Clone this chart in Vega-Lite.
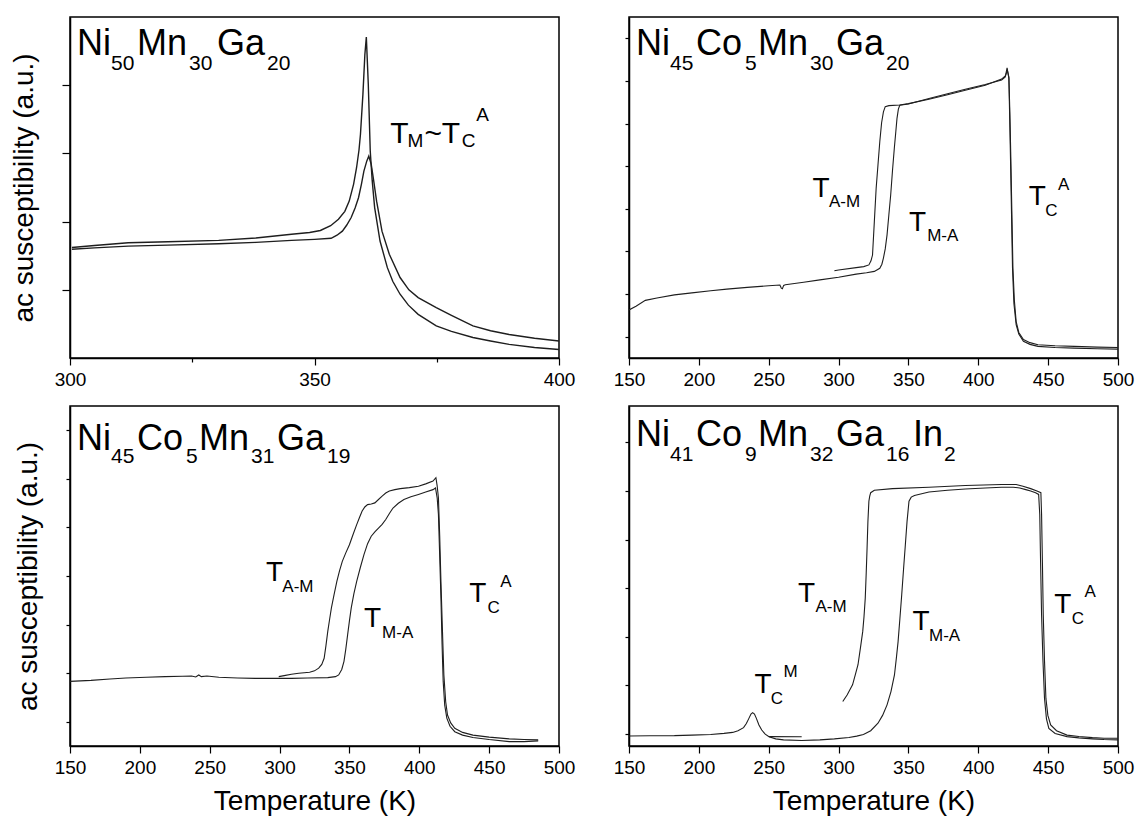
{
"$schema": "https://vega.github.io/schema/vega-lite/v6.json",
"padding": {"left": 9, "top": 16, "right": 5, "bottom": 0},
"autosize": {"type": "pad"},
"background": "white",
"config": {
  "font": "Liberation Sans",
  "view": {"stroke": "black", "strokeWidth": 1.5},
  "axis": {"grid": false, "domainColor": "black", "domainWidth": 1.5, "tickColor": "black", "tickWidth": 1.2, "labelColor": "black", "labelFontSize": 19, "labelFont": "Liberation Sans", "titleFont": "Liberation Sans", "titleFontSize": 28, "titleFontWeight": "normal", "titleColor": "black", "labelFlush": false, "labelOverlap": false}
},
"datasets": {
  "tl": [
    {"r":"a","T":300.4,"v":0.324},{"r":"a","T":305,"v":0.330},{"r":"a","T":311.9,"v":0.338},{"r":"a","T":320,"v":0.341},{"r":"a","T":330.4,"v":0.345},{"r":"a","T":338,"v":0.352},{"r":"a","T":345.3,"v":0.363},{"r":"a","T":349,"v":0.368},{"r":"a","T":351.2,"v":0.374},{"r":"a","T":353.3,"v":0.388},{"r":"a","T":354.9,"v":0.407},{"r":"a","T":356.2,"v":0.43},{"r":"a","T":357.1,"v":0.46},{"r":"a","T":358,"v":0.51},{"r":"a","T":358.6,"v":0.558},{"r":"a","T":359.1,"v":0.61},{"r":"a","T":359.4,"v":0.656},{"r":"a","T":359.9,"v":0.773},{"r":"a","T":360.3,"v":0.89},{"r":"a","T":360.6,"v":0.941},{"r":"a","T":361.0,"v":0.803},{"r":"a","T":361.4,"v":0.607},{"r":"a","T":361.8,"v":0.52},{"r":"a","T":362.3,"v":0.441},{"r":"a","T":363.4,"v":0.343},{"r":"a","T":364.9,"v":0.265},{"r":"a","T":366,"v":0.225},{"r":"a","T":367.5,"v":0.187},{"r":"a","T":369.2,"v":0.155},{"r":"a","T":371.2,"v":0.128},{"r":"a","T":374.9,"v":0.094},{"r":"a","T":378,"v":0.078},{"r":"a","T":382.4,"v":0.06},{"r":"a","T":386,"v":0.05},{"r":"a","T":389.8,"v":0.04},{"r":"a","T":395,"v":0.031},{"r":"a","T":400,"v":0.025},
    {"r":"b","T":300.4,"v":0.319},{"r":"b","T":305,"v":0.323},{"r":"b","T":311.9,"v":0.328},{"r":"b","T":320,"v":0.331},{"r":"b","T":330.4,"v":0.335},{"r":"b","T":338,"v":0.339},{"r":"b","T":345.3,"v":0.345},{"r":"b","T":350,"v":0.348},{"r":"b","T":353.4,"v":0.351},{"r":"b","T":354.6,"v":0.36},{"r":"b","T":355.7,"v":0.372},{"r":"b","T":356.6,"v":0.39},{"r":"b","T":357.5,"v":0.412},{"r":"b","T":358.3,"v":0.44},{"r":"b","T":359.0,"v":0.47},{"r":"b","T":359.6,"v":0.51},{"r":"b","T":360.1,"v":0.548},{"r":"b","T":360.7,"v":0.578},{"r":"b","T":361.1,"v":0.592},{"r":"b","T":361.6,"v":0.568},{"r":"b","T":362.1,"v":0.52},{"r":"b","T":362.7,"v":0.46},{"r":"b","T":363.8,"v":0.372},{"r":"b","T":365.3,"v":0.304},{"r":"b","T":367.5,"v":0.236},{"r":"b","T":369.3,"v":0.2},{"r":"b","T":371.2,"v":0.177},{"r":"b","T":374.9,"v":0.148},{"r":"b","T":378,"v":0.125},{"r":"b","T":382.4,"v":0.094},{"r":"b","T":386,"v":0.08},{"r":"b","T":389.8,"v":0.069},{"r":"b","T":395,"v":0.058},{"r":"b","T":400,"v":0.05}
  ],
  "tr": [
    {"r":"h","T":150,"v":0.141},{"r":"h","T":155,"v":0.152},{"r":"h","T":161.7,"v":0.169},{"r":"h","T":170,"v":0.176},{"r":"h","T":182.5,"v":0.185},{"r":"h","T":195,"v":0.191},{"r":"h","T":208.5,"v":0.197},{"r":"h","T":220,"v":0.202},{"r":"h","T":234.6,"v":0.207},{"r":"h","T":250,"v":0.212},{"r":"h","T":258,"v":0.214},{"r":"h","T":259,"v":0.205},{"r":"h","T":259.8,"v":0.203},{"r":"h","T":260.7,"v":0.213},{"r":"h","T":261.9,"v":0.215},{"r":"h","T":275,"v":0.222},{"r":"h","T":286.6,"v":0.229},{"r":"h","T":300,"v":0.237},{"r":"h","T":312.6,"v":0.246},{"r":"h","T":320,"v":0.25},{"r":"h","T":325.6,"v":0.254},{"r":"h","T":329.5,"v":0.263},{"r":"h","T":331,"v":0.275},{"r":"h","T":332.1,"v":0.293},{"r":"h","T":333.4,"v":0.32},{"r":"h","T":334.7,"v":0.361},{"r":"h","T":336,"v":0.42},{"r":"h","T":337.3,"v":0.478},{"r":"h","T":338.6,"v":0.55},{"r":"h","T":339.9,"v":0.615},{"r":"h","T":341,"v":0.665},{"r":"h","T":341.8,"v":0.702},{"r":"h","T":342.8,"v":0.73},{"r":"h","T":343.8,"v":0.741},{"r":"h","T":350,"v":0.745},{"r":"h","T":364.7,"v":0.761},{"r":"h","T":378,"v":0.775},{"r":"h","T":390.7,"v":0.788},{"r":"h","T":405,"v":0.802},{"r":"h","T":416.7,"v":0.815},{"r":"h","T":419.3,"v":0.824},{"r":"h","T":420.6,"v":0.851},{"r":"h","T":421.9,"v":0.82},{"r":"h","T":422.5,"v":0.7},{"r":"h","T":423.2,"v":0.556},{"r":"h","T":424.5,"v":0.263},{"r":"h","T":425.5,"v":0.16},{"r":"h","T":427.1,"v":0.098},{"r":"h","T":429,"v":0.07},{"r":"h","T":432.3,"v":0.049},{"r":"h","T":437,"v":0.04},{"r":"h","T":442.7,"v":0.034},{"r":"h","T":455,"v":0.031},{"r":"h","T":468.7,"v":0.029},{"r":"h","T":485,"v":0.027},{"r":"h","T":500,"v":0.026},
    {"r":"c","T":297,"v":0.256},{"r":"c","T":300,"v":0.258},{"r":"c","T":312.6,"v":0.265},{"r":"c","T":318,"v":0.268},{"r":"c","T":321.7,"v":0.273},{"r":"c","T":323.2,"v":0.285},{"r":"c","T":324.3,"v":0.302},{"r":"c","T":325.6,"v":0.4},{"r":"c","T":326.9,"v":0.498},{"r":"c","T":328.2,"v":0.566},{"r":"c","T":329.5,"v":0.634},{"r":"c","T":330.8,"v":0.69},{"r":"c","T":332.1,"v":0.722},{"r":"c","T":333.4,"v":0.737},{"r":"c","T":336,"v":0.74},{"r":"c","T":343.8,"v":0.742},{"r":"c","T":350,"v":0.746},{"r":"c","T":364.7,"v":0.759},{"r":"c","T":378,"v":0.772},{"r":"c","T":390.7,"v":0.785},{"r":"c","T":405,"v":0.8},{"r":"c","T":416.7,"v":0.818},{"r":"c","T":419.5,"v":0.828},{"r":"c","T":420.8,"v":0.844},{"r":"c","T":421.9,"v":0.824},{"r":"c","T":422.6,"v":0.72},{"r":"c","T":423.2,"v":0.605},{"r":"c","T":424.8,"v":0.263},{"r":"c","T":425.8,"v":0.17},{"r":"c","T":427.1,"v":0.107},{"r":"c","T":429,"v":0.075},{"r":"c","T":432.3,"v":0.054},{"r":"c","T":437,"v":0.045},{"r":"c","T":442.7,"v":0.039},{"r":"c","T":455,"v":0.036},{"r":"c","T":468.7,"v":0.034},{"r":"c","T":485,"v":0.032},{"r":"c","T":500,"v":0.031}
  ],
  "bl": [
    {"r":"h","T":150,"v":0.19},{"r":"h","T":165,"v":0.193},{"r":"h","T":178.6,"v":0.197},{"r":"h","T":190,"v":0.2},{"r":"h","T":204.6,"v":0.202},{"r":"h","T":218,"v":0.204},{"r":"h","T":230.5,"v":0.205},{"r":"h","T":237,"v":0.206},{"r":"h","T":240,"v":0.203},{"r":"h","T":242.2,"v":0.209},{"r":"h","T":244,"v":0.204},{"r":"h","T":248,"v":0.206},{"r":"h","T":256.5,"v":0.202},{"r":"h","T":270,"v":0.2},{"r":"h","T":282.5,"v":0.199},{"r":"h","T":295,"v":0.199},{"r":"h","T":308.5,"v":0.199},{"r":"h","T":320,"v":0.2},{"r":"h","T":334.5,"v":0.201},{"r":"h","T":340,"v":0.204},{"r":"h","T":342.3,"v":0.209},{"r":"h","T":344.5,"v":0.225},{"r":"h","T":346.1,"v":0.249},{"r":"h","T":347.4,"v":0.285},{"r":"h","T":348.7,"v":0.327},{"r":"h","T":350,"v":0.368},{"r":"h","T":351.3,"v":0.406},{"r":"h","T":353.2,"v":0.448},{"r":"h","T":355.2,"v":0.484},{"r":"h","T":357.8,"v":0.525},{"r":"h","T":360.4,"v":0.563},{"r":"h","T":363,"v":0.595},{"r":"h","T":365.6,"v":0.617},{"r":"h","T":368.2,"v":0.63},{"r":"h","T":370.8,"v":0.641},{"r":"h","T":373.4,"v":0.652},{"r":"h","T":376,"v":0.666},{"r":"h","T":378.6,"v":0.684},{"r":"h","T":381.2,"v":0.7},{"r":"h","T":385,"v":0.714},{"r":"h","T":389,"v":0.725},{"r":"h","T":394,"v":0.733},{"r":"h","T":399.4,"v":0.74},{"r":"h","T":404.6,"v":0.747},{"r":"h","T":409.8,"v":0.754},{"r":"h","T":411.6,"v":0.759},{"r":"h","T":412.8,"v":0.73},{"r":"h","T":413.7,"v":0.681},{"r":"h","T":414.6,"v":0.56},{"r":"h","T":415.5,"v":0.435},{"r":"h","T":416.3,"v":0.3},{"r":"h","T":417.1,"v":0.19},{"r":"h","T":418.2,"v":0.12},{"r":"h","T":419.7,"v":0.082},{"r":"h","T":422,"v":0.058},{"r":"h","T":425.4,"v":0.042},{"r":"h","T":431,"v":0.032},{"r":"h","T":438.4,"v":0.025},{"r":"h","T":450,"v":0.019},{"r":"h","T":464.4,"v":0.013},{"r":"h","T":475,"v":0.013},{"r":"h","T":485.1,"v":0.015},
    {"r":"c","T":299.4,"v":0.204},{"r":"c","T":303.3,"v":0.207},{"r":"c","T":308.5,"v":0.211},{"r":"c","T":313.7,"v":0.214},{"r":"c","T":321.5,"v":0.217},{"r":"c","T":325,"v":0.221},{"r":"c","T":328,"v":0.229},{"r":"c","T":330.2,"v":0.24},{"r":"c","T":331.9,"v":0.258},{"r":"c","T":333.2,"v":0.295},{"r":"c","T":334.5,"v":0.337},{"r":"c","T":335.8,"v":0.372},{"r":"c","T":337.1,"v":0.406},{"r":"c","T":339,"v":0.445},{"r":"c","T":341,"v":0.484},{"r":"c","T":342.9,"v":0.515},{"r":"c","T":344.9,"v":0.543},{"r":"c","T":347.4,"v":0.568},{"r":"c","T":350,"v":0.592},{"r":"c","T":352.6,"v":0.622},{"r":"c","T":355.2,"v":0.651},{"r":"c","T":357.2,"v":0.672},{"r":"c","T":359.1,"v":0.691},{"r":"c","T":361,"v":0.703},{"r":"c","T":363,"v":0.71},{"r":"c","T":365.6,"v":0.712},{"r":"c","T":368.2,"v":0.715},{"r":"c","T":370.8,"v":0.725},{"r":"c","T":373.4,"v":0.735},{"r":"c","T":376,"v":0.744},{"r":"c","T":378.6,"v":0.75},{"r":"c","T":382.5,"v":0.754},{"r":"c","T":386.4,"v":0.757},{"r":"c","T":392.9,"v":0.76},{"r":"c","T":399.4,"v":0.764},{"r":"c","T":404.6,"v":0.771},{"r":"c","T":409.8,"v":0.779},{"r":"c","T":411.9,"v":0.789},{"r":"c","T":412.8,"v":0.765},{"r":"c","T":413.7,"v":0.73},{"r":"c","T":414.6,"v":0.62},{"r":"c","T":415.5,"v":0.484},{"r":"c","T":416.5,"v":0.35},{"r":"c","T":417.6,"v":0.209},{"r":"c","T":418.9,"v":0.13},{"r":"c","T":420.2,"v":0.091},{"r":"c","T":422.5,"v":0.068},{"r":"c","T":425.4,"v":0.052},{"r":"c","T":431,"v":0.04},{"r":"c","T":438.4,"v":0.032},{"r":"c","T":450,"v":0.026},{"r":"c","T":464.4,"v":0.021},{"r":"c","T":475,"v":0.019},{"r":"c","T":485.1,"v":0.018}
  ],
  "br": [
    {"r":"h","T":150,"v":0.0295},{"r":"h","T":165,"v":0.03},{"r":"h","T":182.5,"v":0.0305},{"r":"h","T":195,"v":0.032},{"r":"h","T":208.5,"v":0.034},{"r":"h","T":218,"v":0.037},{"r":"h","T":224.2,"v":0.04},{"r":"h","T":228,"v":0.045},{"r":"h","T":232,"v":0.054},{"r":"h","T":234,"v":0.066},{"r":"h","T":235.9,"v":0.082},{"r":"h","T":237.3,"v":0.094},{"r":"h","T":238.5,"v":0.098},{"r":"h","T":239.8,"v":0.094},{"r":"h","T":241.1,"v":0.082},{"r":"h","T":243,"v":0.062},{"r":"h","T":245,"v":0.047},{"r":"h","T":247.5,"v":0.035},{"r":"h","T":250.2,"v":0.0275},{"r":"h","T":255,"v":0.021},{"r":"h","T":260.6,"v":0.018},{"r":"h","T":273.6,"v":0.016},{"r":"h","T":286.6,"v":0.018},{"r":"h","T":297,"v":0.021},{"r":"h","T":307.4,"v":0.025},{"r":"h","T":313,"v":0.029},{"r":"h","T":317.8,"v":0.034},{"r":"h","T":323,"v":0.045},{"r":"h","T":328.2,"v":0.067},{"r":"h","T":331.5,"v":0.09},{"r":"h","T":334.7,"v":0.121},{"r":"h","T":337.5,"v":0.16},{"r":"h","T":340,"v":0.209},{"r":"h","T":341.4,"v":0.26},{"r":"h","T":342.6,"v":0.307},{"r":"h","T":343.9,"v":0.375},{"r":"h","T":345.2,"v":0.445},{"r":"h","T":346.5,"v":0.52},{"r":"h","T":347.8,"v":0.592},{"r":"h","T":349,"v":0.66},{"r":"h","T":350.4,"v":0.72},{"r":"h","T":352,"v":0.732},{"r":"h","T":354.3,"v":0.737},{"r":"h","T":364.7,"v":0.747},{"r":"h","T":378,"v":0.752},{"r":"h","T":390.7,"v":0.756},{"r":"h","T":405,"v":0.759},{"r":"h","T":416.7,"v":0.761},{"r":"h","T":425,"v":0.761},{"r":"h","T":429.7,"v":0.759},{"r":"h","T":434,"v":0.754},{"r":"h","T":437.5,"v":0.75},{"r":"h","T":441,"v":0.745},{"r":"h","T":443.2,"v":0.74},{"r":"h","T":444,"v":0.681},{"r":"h","T":444.6,"v":0.54},{"r":"h","T":445.3,"v":0.386},{"r":"h","T":446.3,"v":0.25},{"r":"h","T":447.4,"v":0.14},{"r":"h","T":448.8,"v":0.08},{"r":"h","T":450.5,"v":0.052},{"r":"h","T":455,"v":0.037},{"r":"h","T":463.5,"v":0.0275},{"r":"h","T":472,"v":0.024},{"r":"h","T":481.7,"v":0.021},{"r":"h","T":490,"v":0.019},{"r":"h","T":500,"v":0.018},
    {"r":"c","T":303,"v":0.131},{"r":"c","T":306.1,"v":0.15},{"r":"c","T":310,"v":0.18},{"r":"c","T":312,"v":0.21},{"r":"c","T":313.9,"v":0.239},{"r":"c","T":315.7,"v":0.29},{"r":"c","T":317.3,"v":0.337},{"r":"c","T":318.2,"v":0.38},{"r":"c","T":319.1,"v":0.435},{"r":"c","T":319.8,"v":0.51},{"r":"c","T":320.4,"v":0.582},{"r":"c","T":321,"v":0.66},{"r":"c","T":321.7,"v":0.72},{"r":"c","T":322.3,"v":0.735},{"r":"c","T":323,"v":0.745},{"r":"c","T":325.6,"v":0.752},{"r":"c","T":338.6,"v":0.757},{"r":"c","T":364.7,"v":0.761},{"r":"c","T":390.7,"v":0.766},{"r":"c","T":416.7,"v":0.769},{"r":"c","T":427.1,"v":0.769},{"r":"c","T":432,"v":0.764},{"r":"c","T":437.5,"v":0.757},{"r":"c","T":442,"v":0.75},{"r":"c","T":444.8,"v":0.745},{"r":"c","T":445.3,"v":0.681},{"r":"c","T":445.9,"v":0.54},{"r":"c","T":446.5,"v":0.386},{"r":"c","T":447.4,"v":0.25},{"r":"c","T":448.4,"v":0.14},{"r":"c","T":449.8,"v":0.09},{"r":"c","T":451.8,"v":0.062},{"r":"c","T":456,"v":0.045},{"r":"c","T":463.5,"v":0.032},{"r":"c","T":472,"v":0.028},{"r":"c","T":481.7,"v":0.0246},{"r":"c","T":490,"v":0.023},{"r":"c","T":500,"v":0.0226},
    {"r":"s","T":250.2,"v":0.0275},{"r":"s","T":273.6,"v":0.027}
  ],
  "tl_t": [
    {"T":301.43,"v":0.8886,"s":"Ni","k":"m"},{"T":308.38,"v":0.8446,"s":"50","k":"s"},{"T":313.7,"v":0.8886,"s":"Mn","k":"m"},{"T":324.34,"v":0.8446,"s":"30","k":"s"},{"T":330.06,"v":0.8886,"s":"Ga","k":"m"},{"T":340.29,"v":0.8446,"s":"20","k":"s"},
    {"T":365.5,"v":0.631,"s":"T","k":"A"},{"T":369.0,"v":0.619,"s":"M","k":"B"},{"T":372.5,"v":0.631,"s":"~","k":"A"},{"T":376.0,"v":0.631,"s":"T","k":"A"},{"T":380.1,"v":0.619,"s":"C","k":"B"},{"T":383.1,"v":0.695,"s":"A","k":"B"}
  ],
  "tr_t": [
    {"T":155.0,"v":0.8886,"s":"Ni","k":"m"},{"T":179.35,"v":0.8446,"s":"45","k":"s"},{"T":197.96,"v":0.8886,"s":"Co","k":"m"},{"T":233.04,"v":0.8446,"s":"5","k":"s"},{"T":242.34,"v":0.8886,"s":"Mn","k":"m"},{"T":279.56,"v":0.8446,"s":"30","k":"s"},{"T":298.18,"v":0.8886,"s":"Ga","k":"m"},{"T":333.97,"v":0.8446,"s":"20","k":"s"},
    {"T":281.4,"v":0.473,"s":"T","k":"a"},{"T":293.1,"v":0.444,"s":"A-M","k":"b"},
    {"T":350.4,"v":0.373,"s":"T","k":"a"},{"T":363.4,"v":0.343,"s":"M-A","k":"b"},
    {"T":436.2,"v":0.449,"s":"T","k":"a"},{"T":447.9,"v":0.415,"s":"C","k":"b"},{"T":457.0,"v":0.493,"s":"A","k":"b"}
  ],
  "bl_t": [
    {"T":155.0,"v":0.872,"s":"Ni","k":"m"},{"T":179.35,"v":0.833,"s":"45","k":"s"},{"T":197.96,"v":0.872,"s":"Co","k":"m"},{"T":233.04,"v":0.833,"s":"5","k":"s"},{"T":242.34,"v":0.872,"s":"Mn","k":"m"},{"T":279.56,"v":0.833,"s":"31","k":"s"},{"T":298.18,"v":0.872,"s":"Ga","k":"m"},{"T":333.97,"v":0.833,"s":"19","k":"s"},
    {"T":290.3,"v":0.484,"s":"T","k":"a"},{"T":302.0,"v":0.453,"s":"A-M","k":"b"},
    {"T":360.4,"v":0.349,"s":"T","k":"a"},{"T":373.4,"v":0.317,"s":"M-A","k":"b"},
    {"T":435.8,"v":0.425,"s":"T","k":"a"},{"T":448.8,"v":0.391,"s":"C","k":"b"},{"T":457.9,"v":0.467,"s":"A","k":"b"}
  ],
  "br_t": [
    {"T":155.0,"v":0.882,"s":"Ni","k":"m"},{"T":179.35,"v":0.838,"s":"41","k":"s"},{"T":197.96,"v":0.882,"s":"Co","k":"m"},{"T":233.04,"v":0.838,"s":"9","k":"s"},{"T":242.34,"v":0.882,"s":"Mn","k":"m"},{"T":279.56,"v":0.838,"s":"32","k":"s"},{"T":298.18,"v":0.882,"s":"Ga","k":"m"},{"T":333.97,"v":0.838,"s":"16","k":"s"},{"T":353.29,"v":0.882,"s":"In","k":"m"},{"T":375.48,"v":0.838,"s":"2","k":"s"},
    {"T":239.8,"v":0.155,"s":"T","k":"a"},{"T":251.5,"v":0.123,"s":"C","k":"b"},{"T":260.6,"v":0.204,"s":"M","k":"b"},
    {"T":271.0,"v":0.425,"s":"T","k":"a"},{"T":283.5,"v":0.393,"s":"A-M","k":"b"},
    {"T":353.0,"v":0.342,"s":"T","k":"a"},{"T":364.7,"v":0.309,"s":"M-A","k":"b"},
    {"T":454.4,"v":0.391,"s":"T","k":"a"},{"T":466.9,"v":0.359,"s":"C","k":"b"},{"T":476.0,"v":0.437,"s":"A","k":"b"}
  ]
},
"bounds": "flush",
"spacing": {"row": 48, "column": 70},
"columns": 2,
"concat": [
  {
    "width": 489, "height": 341,
    "layer": [
      {"data": {"name": "tl"}, "mark": {"type": "line", "color": "#1e1e1e", "strokeWidth": 1.4, "clip": true},
       "encoding": {
         "x": {"field": "T", "type": "quantitative", "scale": {"domain": [300, 400], "nice": false, "zero": false},
               "axis": {"title": null, "values": [300, 325, 350, 375, 400], "labelExpr": "datum.value % 50 === 0 ? datum.label : ''", "tickSize": {"condition": {"test": "datum.value % 50 === 0", "value": 7}, "value": 4}, "labelPadding": 5}},
         "y": {"field": "v", "type": "quantitative", "scale": {"domain": [0, 1], "nice": false},
               "axis": {"title": "ac susceptibility (a.u.)", "values": [0.2, 0.4, 0.6, 0.8], "labels": false, "tickSize": 8, "titlePadding": 23}},
         "detail": {"field": "r", "type": "nominal"}
       }},
      {"data": {"name": "tl_t"}, "mark": {"type": "text", "align": "left", "baseline": "alphabetic", "color": "black", "fontSize": {"expr": "datum.k == 'm' ? 36 : datum.k == 's' ? 21 : datum.k == 'A' ? 30 : datum.k == 'B' ? 19 : datum.k == 'a' ? 28 : 17"}},
       "encoding": {"x": {"field": "T", "type": "quantitative"}, "y": {"field": "v", "type": "quantitative"}, "text": {"field": "s"}}}
    ]
  },
  {
    "width": 489, "height": 341,
    "layer": [
      {"data": {"name": "tr"}, "mark": {"type": "line", "color": "#1e1e1e", "strokeWidth": 1.1, "clip": true},
       "encoding": {
         "x": {"field": "T", "type": "quantitative", "scale": {"domain": [150, 500], "nice": false, "zero": false},
               "axis": {"title": null, "values": [150,175,200,225,250,275,300,325,350,375,400,425,450,475,500], "labelExpr": "datum.value % 50 === 0 ? datum.label : ''", "tickSize": {"condition": {"test": "datum.value % 50 === 0", "value": 7}, "value": 4}, "labelPadding": 5}},
         "y": {"field": "v", "type": "quantitative", "scale": {"domain": [0, 1], "nice": false},
               "axis": {"title": null, "values": [0.0625,0.125,0.1875,0.25,0.3125,0.375,0.4375,0.5,0.5625,0.625,0.6875,0.75,0.8125,0.875,0.9375], "labels": false, "tickSize": {"condition": {"test": "abs(datum.value*8 - round(datum.value*8)) < 0.01", "value": 8}, "value": 4}}},
         "detail": {"field": "r", "type": "nominal"}
       }},
      {"data": {"name": "tr_t"}, "mark": {"type": "text", "align": "left", "baseline": "alphabetic", "color": "black", "fontSize": {"expr": "datum.k == 'm' ? 36 : datum.k == 's' ? 21 : datum.k == 'a' ? 28 : 17"}},
       "encoding": {"x": {"field": "T", "type": "quantitative"}, "y": {"field": "v", "type": "quantitative"}, "text": {"field": "s"}}}
    ]
  },
  {
    "width": 489, "height": 340,
    "layer": [
      {"data": {"name": "bl"}, "mark": {"type": "line", "color": "#1e1e1e", "strokeWidth": 1.1, "clip": true},
       "encoding": {
         "x": {"field": "T", "type": "quantitative", "scale": {"domain": [150, 500], "nice": false, "zero": false},
               "axis": {"title": "Temperature (K)", "titlePadding": 10, "values": [150,175,200,225,250,275,300,325,350,375,400,425,450,475,500], "labelExpr": "datum.value % 50 === 0 ? datum.label : ''", "tickSize": {"condition": {"test": "datum.value % 50 === 0", "value": 7}, "value": 4}, "labelPadding": 5}},
         "y": {"field": "v", "type": "quantitative", "scale": {"domain": [0, 1], "nice": false},
               "axis": {"title": "ac susceptibility (a.u.)", "titlePadding": 23, "values": [0.0714286,0.1428571,0.2142857,0.2857143,0.3571429,0.4285714,0.5,0.5714286,0.6428571,0.7142857,0.7857143,0.8571429,0.9285714], "labels": false, "tickSize": {"condition": {"test": "abs(datum.value*7 - round(datum.value*7)) < 0.01", "value": 8}, "value": 4}}},
         "detail": {"field": "r", "type": "nominal"}
       }},
      {"data": {"name": "bl_t"}, "mark": {"type": "text", "align": "left", "baseline": "alphabetic", "color": "black", "fontSize": {"expr": "datum.k == 'm' ? 36 : datum.k == 's' ? 21 : datum.k == 'a' ? 28 : 17"}},
       "encoding": {"x": {"field": "T", "type": "quantitative"}, "y": {"field": "v", "type": "quantitative"}, "text": {"field": "s"}}}
    ]
  },
  {
    "width": 489, "height": 340,
    "layer": [
      {"data": {"name": "br"}, "mark": {"type": "line", "color": "#1e1e1e", "strokeWidth": 1.1, "clip": true},
       "encoding": {
         "x": {"field": "T", "type": "quantitative", "scale": {"domain": [150, 500], "nice": false, "zero": false},
               "axis": {"title": "Temperature (K)", "titlePadding": 10, "values": [150,175,200,225,250,275,300,325,350,375,400,425,450,475,500], "labelExpr": "datum.value % 50 === 0 ? datum.label : ''", "tickSize": {"condition": {"test": "datum.value % 50 === 0", "value": 7}, "value": 4}, "labelPadding": 5}},
         "y": {"field": "v", "type": "quantitative", "scale": {"domain": [0, 1], "nice": false},
               "axis": {"title": null, "values": [0.0357143,0.0714286,0.1071429,0.1428571,0.1785714,0.2142857,0.25,0.2857143,0.3214286,0.3571429,0.3928571,0.4285714,0.4642857,0.5,0.5357143,0.5714286,0.6071429,0.6428571,0.6785714,0.7142857,0.75,0.7857143,0.8214286,0.8571429,0.8928571,0.9285714,0.9642857], "labels": false, "tickSize": {"condition": {"test": "abs(datum.value*14 - round(datum.value*14)) < 0.01", "value": 8}, "value": 4}}},
         "detail": {"field": "r", "type": "nominal"}
       }},
      {"data": {"name": "br_t"}, "mark": {"type": "text", "align": "left", "baseline": "alphabetic", "color": "black", "fontSize": {"expr": "datum.k == 'm' ? 36 : datum.k == 's' ? 21 : datum.k == 'a' ? 28 : 17"}},
       "encoding": {"x": {"field": "T", "type": "quantitative"}, "y": {"field": "v", "type": "quantitative"}, "text": {"field": "s"}}}
    ]
  }
]
}
